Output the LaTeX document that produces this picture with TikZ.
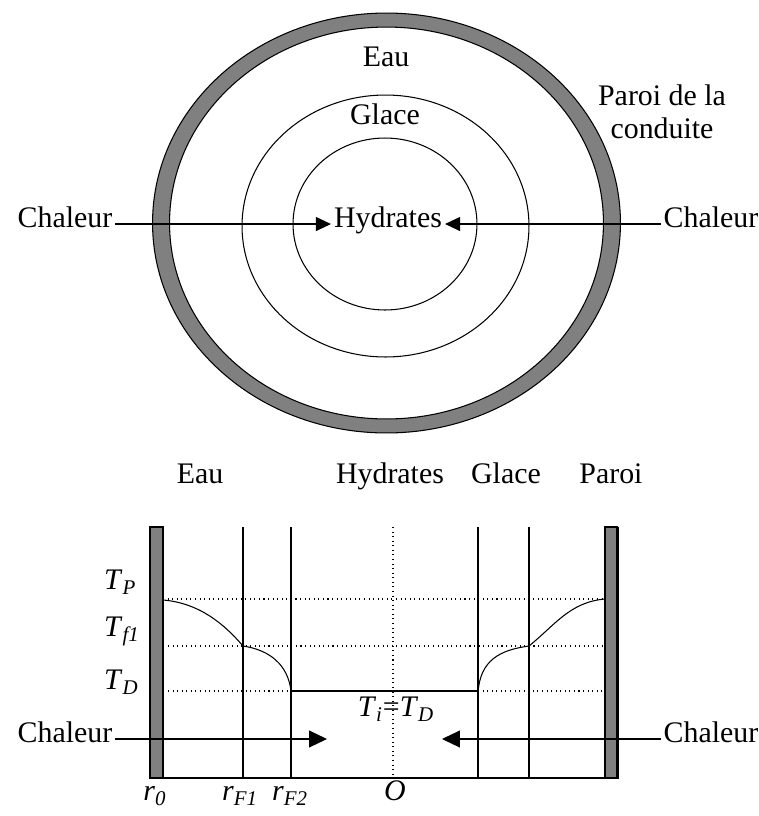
\documentclass[tikz,border=0pt]{standalone}
\usepackage{fontspec}
\setmainfont{Liberation Serif}
\usepackage{tikz}
\usetikzlibrary{arrows.meta}

\definecolor{paroi}{gray}{0.5}
\newcommand{\indice}[2]{\textit{#1}\textsubscript{\textit{#2}}}

\tikzset{
    lbl/.style={inner sep=1.5pt, text height=0.7em, text depth=0.25em},
    fleche/.style={-{Triangle[length=0.3cm, width=0.28cm]}, line width=0.6pt},
    grosse/.style={-{Triangle[length=0.36cm, width=0.34cm]}, line width=0.6pt}
}

\begin{document}
\begin{tikzpicture}[x=0.02cm, y=-0.02cm, line width=0.6pt, font=\fontsize{17}{19}\selectfont]
    \useasboundingbox (0,0) rectangle (759,816);

    % Pipe wall (ring) and the two fronts
    \draw[fill=paroi, even odd rule] (386.5,223) ellipse [x radius=4.68cm, y radius=4.2cm]
        (386.5,223) ellipse [x radius=4.34cm, y radius=3.92cm];
    \draw (385.5,226) ellipse [x radius=2.87cm, y radius=2.62cm];
    \draw (385,224) ellipse [x radius=1.84cm, y radius=1.72cm];

    % Labels of the cross-section
    \node[lbl] (eauH) at (386,63) {Eau};
    \node[lbl] (glaceH) at (385,121) {Glace};
    \node[align=center, inner sep=1pt] (paroiH) at (662,112) {Paroi de la\\conduite};
    \node[lbl] (chalG) at (65,224) {Chaleur};
    \node[lbl] (hydr) at (388,224) {Hydrates};
    \node[lbl] (chalD) at (711,224) {Chaleur};

    % Heat flux towards the centre
    \draw[fleche] (chalG) -- (hydr);
    \draw[fleche] (chalD) -- (hydr);

    % Profile: column labels
    \node[lbl] (eauB) at (200,480) {Eau};
    \node[lbl] (hydrB) at (390,480) {Hydrates};
    \node[lbl] (glaceB) at (506,480) {Glace};
    \node[lbl] (paroiB) at (611,480) {Paroi};

    % Fronts, axis and bottom line
    \foreach \x in {243,291,478,529}
        \draw (\x,527) -- (\x,778);
    \draw[dotted] (393,527) -- (393,778);
    \draw (150,778) -- (619,778);

    % Walls
    \draw[fill=paroi] (150,527) rectangle (163,778);
    \draw[fill=paroi] (605,527) rectangle (617,778);
    \draw[line width=1.7pt] (618,527) -- (618,779);

    % Temperature levels
    \draw[dotted] (163,599) -- (605,599);
    \draw[dotted] (168,646) -- (603,646);
    \draw[dotted] (168,691) -- (291,691);
    \draw[dotted] (478,691) -- (603,691);
    \draw (291,691) -- (478,691);

    % Temperature profile
    \draw (163,600) .. controls (200,603) and (225,625) .. (243,646)
        .. controls (270,650) and (288,665) .. (291,691);
    \draw (478,693) .. controls (480,660) and (500,650) .. (529,646)
        .. controls (555,625) and (570,602) .. (605,599);

    % Temperature labels
    \node[lbl, anchor=west] (tp) at (101,586) {\indice{T}{P}};
    \node[lbl, anchor=west] (tf) at (101,633) {\indice{T}{f1}};
    \node[lbl, anchor=west] (td) at (101,686) {\indice{T}{D}};
    \node[lbl] (ti) at (396,713) {\indice{T}{i}=\indice{T}{D}};

    % Heat flux in the profile
    \node[lbl] (chalBG) at (65,739) {Chaleur};
    \node[lbl] (chalBD) at (711,739) {Chaleur};
    \coordinate (pointeG) at (327,739);
    \coordinate (pointeD) at (442,739);
    \draw[grosse] (chalBG) -- (pointeG);
    \draw[grosse] (chalBD) -- (pointeD);

    % Radii
    \node[lbl] (r0) at (155,797) {\indice{r}{0}};
    \node[lbl] (rf1) at (240,797) {\indice{r}{F1}};
    \node[lbl] (rf2) at (290,797) {\indice{r}{F2}};
    \node[lbl] (orig) at (395,797) {\textit{O}};

\end{tikzpicture}
\end{document}
